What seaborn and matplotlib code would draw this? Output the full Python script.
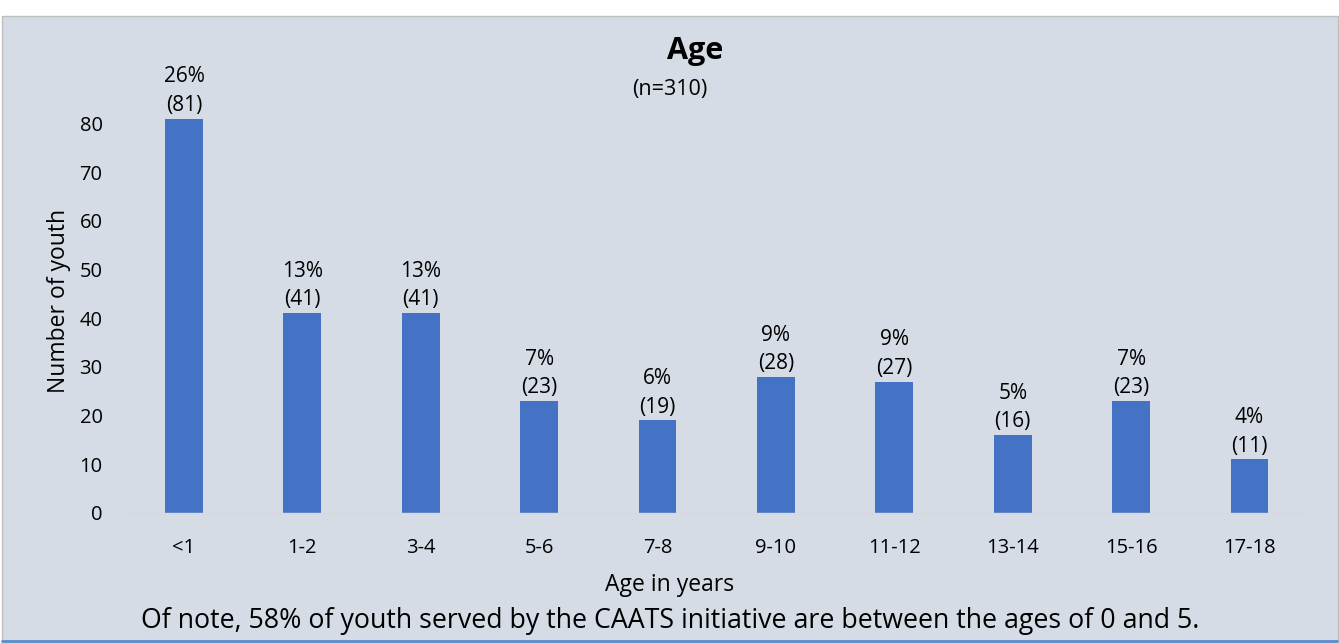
import matplotlib
matplotlib.use("Agg")
import matplotlib.pyplot as plt
import seaborn as sns
import pandas as pd
from matplotlib.patches import Rectangle
from matplotlib.lines import Line2D

categories = ["<1", "1-2", "3-4", "5-6", "7-8", "9-10", "11-12", "13-14", "15-16", "17-18"]
counts = [81, 41, 41, 23, 19, 28, 27, 16, 23, 11]
percents = ["26%", "13%", "13%", "7%", "6%", "9%", "9%", "5%", "7%", "4%"]
yticks = [0, 10, 20, 30, 40, 50, 60, 70, 80]

sns.set_theme(style="white")
plt.rcParams['font.family'] = ['Open Sans', 'DejaVu Sans']
plt.rcParams['text.color'] = 'black'

W, H = 1339, 643
fig = plt.figure(figsize=(W / 100, H / 100), dpi=100, facecolor="white")

bg = "#D6DCE5"
fig.patches.append(Rectangle((2 / W, 0), 1336 / W, (H - 16) / H, transform=fig.transFigure,
                             facecolor=bg, edgecolor="#BFBFBF", linewidth=1.0, zorder=-10))
fig.lines.append(Line2D([2 / W, 1337 / W], [2 / H, 2 / H], transform=fig.transFigure,
                        color="#5B8BD0", linewidth=2, zorder=-5))

left, right = 124.8, 1308.7
y0, ytop_val = 513, 87
ppu = 4.87
top = y0 - ytop_val * ppu
ax = fig.add_axes([left / W, 1 - y0 / H, (right - left) / W, (y0 - top) / H])
ax.patch.set_visible(False)

df = pd.DataFrame({"age": categories, "n": counts})
sns.barplot(data=df, x="age", y="n", color="#4472C4", width=0.32, saturation=1,
            linewidth=0, ax=ax)
ax.set_xlim(-0.5, len(categories) - 0.5)
ax.set_ylim(0, ytop_val)
ax.set_yticks(yticks)
ax.tick_params(axis="both", length=0, labelsize=14.5, colors="#000000")
ax.tick_params(axis="y", pad=16)
ax.tick_params(axis="x", pad=18)
for s in ["top", "right", "left"]:
    ax.spines[s].set_visible(False)
ax.spines["bottom"].set_color("#D9D9D9")
ax.spines["bottom"].set_linewidth(1.0)
ax.set_xlabel("")
ax.set_ylabel("Number of youth", fontsize=16.5, labelpad=6, color="black")

for i, (c, p) in enumerate(zip(counts, percents)):
    ax.text(i, c + 0.6, f"{p}\n({c})", ha="center", va="bottom", fontsize=15,
            linespacing=1.45, color="black")

fig.text(695 / W, 1 - 51 / H, "Age", ha="center", va="center", fontsize=22, fontweight="bold")
fig.text(670 / W, 1 - 90 / H, "(n=310)", ha="center", va="center", fontsize=15.5)
fig.text(670 / W, 1 - 585 / H, "Age in years", ha="center", va="center", fontsize=16.5)
fig.text(670 / W, 1 - 621 / H,
         "Of note, 58% of youth served by the CAATS initiative are between the ages of 0 and 5.",
         ha="center", va="center", fontsize=19.3)

fig.savefig("out.png", dpi=100, facecolor="white")
